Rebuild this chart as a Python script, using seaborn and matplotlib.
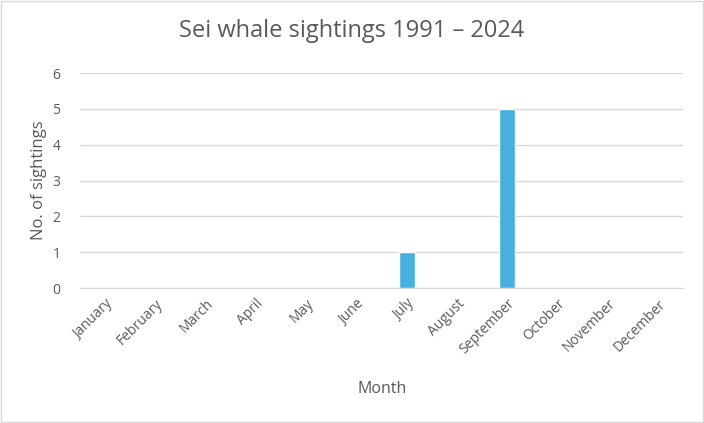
import matplotlib
matplotlib.use('Agg')
import matplotlib.pyplot as plt
import seaborn as sns
import pandas as pd

# data
months = ['January', 'February', 'March', 'April', 'May', 'June',
          'July', 'August', 'September', 'October', 'November', 'December']
sightings = [0, 0, 0, 0, 0, 0, 1, 0, 5, 0, 0, 0]
yticks = [0, 1, 2, 3, 4, 5, 6]

df = pd.DataFrame({'Month': months, 'Sightings': sightings})

sns.set_style('white')
plt.rcParams['font.family'] = ['Open Sans', 'DejaVu Sans']
grey = '#595959'

fig = plt.figure(figsize=(7.04, 4.23), dpi=100)
ax = fig.add_axes([0.1136, 0.319, 0.857, 0.508])

sns.barplot(data=df, x='Month', y='Sightings', color='#47B0DF',
            width=0.32, saturation=1, ax=ax, zorder=3)

ax.set_ylim(0, 6)
ax.set_yticks(yticks)
ax.yaxis.grid(True, color='#D9D9D9', linewidth=1, zorder=0)
for s in ['top', 'right', 'left']:
    ax.spines[s].set_visible(False)
ax.spines['bottom'].set_color('#D9D9D9')
ax.tick_params(axis='both', length=0, colors=grey, labelsize=10)
ax.tick_params(axis='y', pad=14)
plt.setp(ax.get_xticklabels(), rotation=45, ha='right', rotation_mode='anchor')
ax.tick_params(axis='x', pad=6)

ax.set_xlabel('Month', color=grey, fontsize=11.5, labelpad=17)
ax.set_ylabel('No. of sightings', color=grey, fontsize=12, labelpad=4)
fig.suptitle('Sei whale sightings 1991 \u2013 2024', color=grey, fontsize=17, y=0.955)

# light frame around the chart area
fig.patches.append(plt.Rectangle((0.002, 0.002), 0.996, 0.996, transform=fig.transFigure,
                                 fill=False, edgecolor='#D9D9D9', linewidth=1))

fig.savefig('out.png', dpi=100)
